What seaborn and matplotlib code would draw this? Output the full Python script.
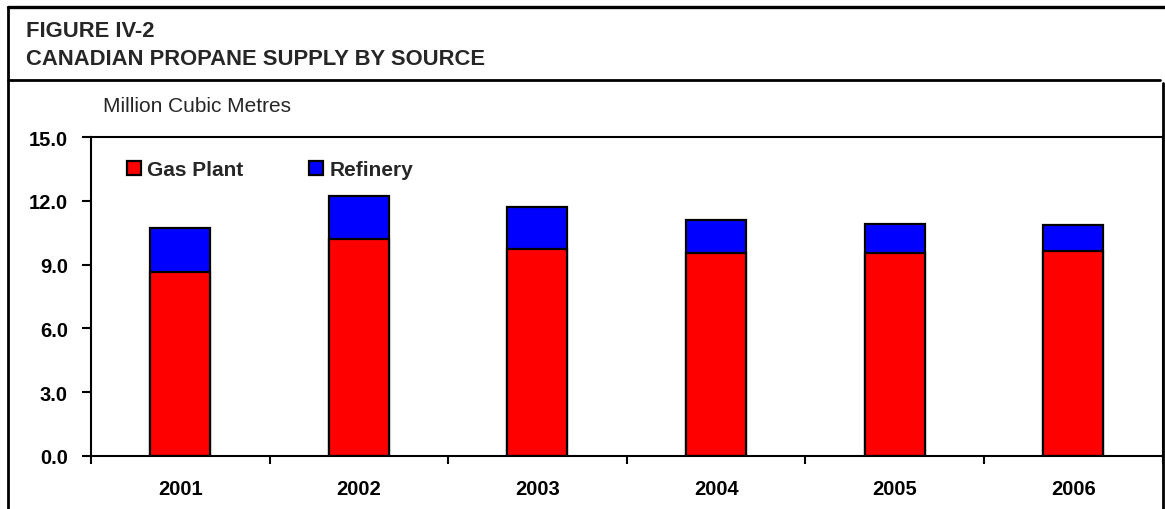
import matplotlib
matplotlib.use('Agg')
import matplotlib.pyplot as plt
import pandas as pd
import seaborn as sns
from matplotlib.patches import Patch
from matplotlib.lines import Line2D
from matplotlib.ticker import FixedLocator, FormatStrFormatter

# values (million cubic metres)
years = ['2001', '2002', '2003', '2004', '2005', '2006']
gas_plant = [8.64, 10.21, 9.72, 9.55, 9.55, 9.63]
refinery = [2.09, 2.04, 2.01, 1.57, 1.36, 1.25]
y_ticks = [0.0, 3.0, 6.0, 9.0, 12.0, 15.0]

df = pd.DataFrame({'year': years, 'Gas Plant': gas_plant, 'Refinery': refinery})
df['total'] = df['Gas Plant'] + df['Refinery']

sns.set_theme(style='white')
plt.rcParams['font.family'] = ['Liberation Sans', 'DejaVu Sans']

fig = plt.figure(figsize=(11.65, 5.1), dpi=100)
ax = fig.add_axes([0.078, 0.1045, 0.92, 0.6245])

bar_kw = dict(width=0.336, edgecolor='black', linewidth=1.6, saturation=1, errorbar=None, ax=ax)
# stacked: draw total in blue, gas plant in red over it
sns.barplot(data=df, x='year', y='total', color='#0000FF', **bar_kw)
sns.barplot(data=df, x='year', y='Gas Plant', color='#FF0000', **bar_kw)

ax.set_xlim(-0.5, len(years) - 0.5)
ax.set_ylim(0, 15)
ax.set_xlabel('')
ax.set_ylabel('')

ax.yaxis.set_major_locator(FixedLocator(y_ticks))
ax.yaxis.set_major_formatter(FormatStrFormatter('%.1f'))
ax.tick_params(axis='y', which='major', left=True, direction='out', length=6.5, width=1.5,
               labelsize=14.5, pad=10, colors='black')
ax.xaxis.set_minor_locator(FixedLocator([i - 0.5 for i in range(len(years) + 1)]))
ax.tick_params(axis='x', which='major', length=0, labelsize=14.5, pad=17, colors='black')
ax.tick_params(axis='x', which='minor', bottom=True, direction='out', length=5.5, width=1.5, colors='black')
for lbl in ax.get_xticklabels() + ax.get_yticklabels():
    lbl.set_fontweight('bold')

for sp in ax.spines.values():
    sp.set_visible(True)
    sp.set_color('black')
    sp.set_linewidth(1.5)

handles = [Patch(facecolor='#FF0000', edgecolor='black', linewidth=1.6),
           Patch(facecolor='#0000FF', edgecolor='black', linewidth=1.6)]
ax.legend(handles, ['Gas Plant', 'Refinery'], ncol=2, frameon=False, loc='center left',
          bbox_to_anchor=(127 / 1165, 1 - 171 / 510), bbox_transform=fig.transFigure,
          handlelength=0.68, handleheight=0.68, handletextpad=0.3, columnspacing=3.15,
          borderpad=0, borderaxespad=0, prop={'weight': 'bold', 'size': 15})

# figure frame and header
fig.add_artist(Line2D([0.0069, 1.0], [0.984, 0.984], color='black', linewidth=2.4))
fig.add_artist(Line2D([0.0069, 0.0069], [0.0, 0.984], color='black', linewidth=2.0))
fig.add_artist(Line2D([0.0069, 0.9957], [0.841, 0.841], color='black', linewidth=2.0))
fig.add_artist(Line2D([0.998, 0.998], [0.0, 0.836], color='black', linewidth=2.0))

fig.text(0.0223, 1 - 37 / 510, 'FIGURE IV-2', fontsize=15.8, fontweight='bold', va='baseline')
fig.text(0.0223, 1 - 65 / 510, 'CANADIAN PROPANE SUPPLY BY SOURCE', fontsize=15.8,
         fontweight='bold', va='baseline')
fig.text(103 / 1165, 1 - 107 / 510, 'Million Cubic Metres', fontsize=15, va='center')

fig.savefig('out.png', dpi=100)
